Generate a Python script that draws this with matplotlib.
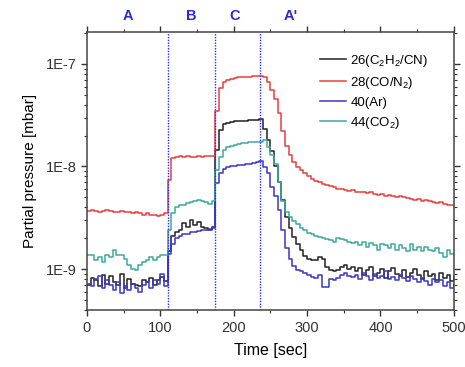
import numpy as np
import matplotlib
matplotlib.use("Agg")
import matplotlib.pyplot as plt
from matplotlib.ticker import LogLocator, NullFormatter, FixedLocator, MultipleLocator

plt.rcParams['font.family'] = ['Liberation Sans', 'DejaVu Sans']
plt.rcParams['mathtext.default'] = 'regular'

# time axis (sec), sampled every 5 s
time_s = np.arange(0, 505, 5)

# partial pressures in units of 1e-9 mbar
p26 = [0.70, 0.82, 0.78, 0.68, 0.88, 0.72, 0.85, 0.75, 0.70, 0.90, 0.65, 0.80, 0.72, 0.70, 0.68, 0.78, 0.74, 0.82, 0.70, 0.78, 0.84, 0.76,
       1.5, 2.1, 2.3, 2.4, 2.8, 2.6, 3.0, 2.7, 2.9, 2.6, 2.5, 2.4, 2.6,
       14.5, 22.5, 26, 26.5, 27, 27.5, 27.5, 28, 28, 28.5, 28.5, 28.5, 29,
       23, 18, 14, 10, 7, 4.7, 3.2, 2.5, 2.05, 1.75, 1.55, 1.35, 1.25, 1.22, 1.22, 1.31, 1.25, 1.05, 0.98, 0.95, 0.98, 1.05, 1.10, 1.0, 1.05,
       0.95, 1.02, 0.88, 0.98, 1.05, 0.85, 0.92, 1.0, 0.82, 0.95, 1.03, 0.90, 0.86, 0.97, 0.84, 0.92, 1.0, 0.88, 0.80, 0.95, 0.85, 0.90, 0.78, 0.92, 0.82, 0.88, 0.76, 0.85]

p28 = [3.7, 3.8, 3.7, 3.6, 3.7, 3.8, 3.7, 3.6, 3.6, 3.7, 3.6, 3.6, 3.5, 3.6, 3.5, 3.4, 3.5, 3.4, 3.4, 3.3, 3.4, 3.5,
       7.4, 12.0, 12.4, 12.6, 12.5, 12.6, 12.4, 12.5, 12.6, 12.5, 12.6, 12.7, 12.6,
       35, 58, 66, 70, 72, 73, 74, 74, 75, 75, 76, 76, 77,
       74, 66, 56, 45, 33, 22, 16, 13, 11, 9.8, 9.2, 8.6, 8.0, 7.6, 7.2, 7.0, 6.8, 6.6, 6.4, 6.3, 6.0, 6.1, 5.9, 5.8, 5.9,
       5.7, 5.6, 5.7, 5.5, 5.6, 5.4, 5.3, 5.4, 5.2, 5.3, 5.1, 5.0, 5.1, 5.0, 4.9, 4.8, 4.7, 4.8, 4.6, 4.7, 4.6, 4.5, 4.4, 4.5, 4.3, 4.2, 4.2, 4.1]

p40 = [0.72, 0.68, 0.80, 0.85, 0.65, 0.78, 0.70, 0.62, 0.75, 0.58, 0.68, 0.62, 0.72, 0.66, 0.60, 0.70, 0.74, 0.66, 0.78, 0.72, 0.90, 0.68,
       1.4, 1.75, 2.0, 2.1, 2.2, 2.2, 2.3, 2.3, 2.35, 2.4, 2.4, 2.45, 2.5,
       6.9, 8.6, 9.5, 9.8, 10.0, 10.2, 10.3, 10.4, 10.5, 10.6, 10.8, 11.0, 11.2,
       9.9, 8.6, 6.3, 5.2, 3.8, 2.4, 1.6, 1.25, 1.08, 0.98, 0.95, 0.91, 0.88, 0.83, 0.82, 0.87, 0.67, 0.67, 0.80, 0.78, 0.82, 0.88, 0.92, 0.85, 0.83,
       0.88, 0.80, 0.92, 0.85, 0.78, 0.90, 0.82, 0.86, 0.95, 0.80, 0.84, 0.78, 0.88, 0.82, 0.76, 0.85, 0.80, 0.74, 0.82, 0.76, 0.70, 0.80, 0.74, 0.78, 0.68, 0.75, 0.66, 0.72]

p44 = [1.37, 1.37, 1.22, 1.31, 1.17, 1.37, 1.31, 1.53, 1.37, 1.37, 1.25, 1.09, 1.0, 0.98, 1.09, 1.17, 1.22, 1.31, 1.22, 1.31, 1.37, 1.37,
       2.4, 3.5, 4.0, 4.2, 4.2, 4.4, 4.5, 4.6, 4.7, 4.6, 4.5, 4.3, 4.6,
       9.2, 12.4, 14.5, 15.5, 16, 16.3, 16.5, 16.8, 17, 17.2, 17.3, 17.5, 17.5,
       18, 15.5, 13, 10.5, 7, 4.6, 3.6, 3.2, 2.95, 2.75, 2.5, 2.4, 2.25, 2.2, 2.1, 2.05, 2.0, 1.95, 1.9, 1.85, 2.0, 1.95, 1.9, 1.85, 1.8,
       1.85, 1.7, 1.85, 1.65, 1.8, 1.7, 1.55, 1.75, 1.7, 1.6, 1.75, 1.55, 1.7, 1.6, 1.5, 1.75, 1.55, 1.65, 1.5, 1.65, 1.55, 1.5, 1.6, 1.45, 1.3, 1.55, 1.4, 1.45]

series_labels = ['26(C$_2$H$_2$/CN)', '28(CO/N$_2$)', '40(Ar)', '44(CO$_2$)']
series_colors = ['#222222', '#e8403f', '#3a36c8', '#3fa89c']

phase_lines = [110, 174, 236]
phase_names = ['A', 'B', 'C', "A'"]
phase_label_x = [56, 142, 202, 277]

fig = plt.figure(figsize=(4.65, 3.67), dpi=100)
ax = fig.add_axes([0.187, 0.155, 0.789, 0.758])

for vals, lab, col in zip([p26, p28, p40, p44], series_labels, series_colors):
    ax.step(time_s, np.array(vals) * 1e-9, where='post', color=col, lw=1.1, label=lab)

for xv in phase_lines:
    ax.axvline(xv, color='#2a2aff', lw=1.0, ls=(0, (1, 1)))

ax.set_yscale('log')
ax.set_xlim(0, 500)
ax.set_ylim(3.98e-10, 2.05e-7)

ax.yaxis.set_major_locator(FixedLocator([1e-9, 1e-8, 1e-7]))
ax.set_yticklabels(['1E-9', '1E-8', '1E-7'])
ax.yaxis.set_minor_locator(LogLocator(base=10, subs=np.arange(2, 10)))
ax.yaxis.set_minor_formatter(NullFormatter())
ax.xaxis.set_major_locator(MultipleLocator(100))
ax.xaxis.set_minor_locator(MultipleLocator(50))

ax.tick_params(which='both', direction='out', top=True, right=True, labelsize=10.5, colors='#333333')
ax.tick_params(which='major', length=4, width=1)
ax.tick_params(which='minor', length=2.5, width=0.8)
for sp in ax.spines.values():
    sp.set_color('#444444')
    sp.set_linewidth(1.1)

ax.set_xlabel('Time [sec]', fontsize=11.5, labelpad=6)
ax.set_ylabel('Partial pressure [mbar]', fontsize=11, labelpad=6)

for name, xl in zip(phase_names, phase_label_x):
    ax.text(xl, 1.058, name, transform=ax.get_xaxis_transform(), ha='center', va='center',
            color='#2a2ad0', fontweight='bold', fontsize=10.5)

leg = ax.legend(loc='upper left', bbox_to_anchor=(0.635, 0.925), frameon=False, fontsize=9.5,
                handlelength=2.0, handletextpad=0.3, labelspacing=0.45, borderpad=0, borderaxespad=0)

fig.savefig('out.png', dpi=100)
